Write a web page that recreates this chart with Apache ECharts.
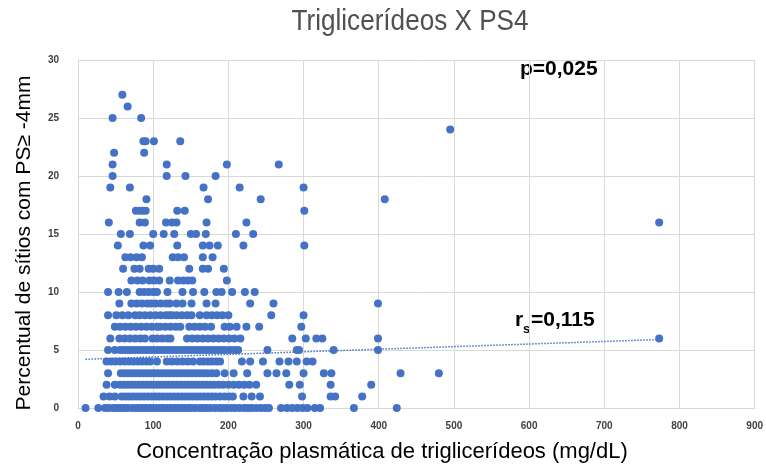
<!DOCTYPE html>
<html>
<head>
<meta charset="utf-8">
<script src="https://cdn.jsdelivr.net/npm/echarts@6/dist/echarts.min.js"></script>
<style>html,body{margin:0;padding:0;background:#fff}#c{width:766px;height:465px}</style>
</head>
<body>
<div id="c"></div>
<script>
// Triglycerides (mg/dL) at each PS4 percentage level
const ps0 = [10, 27, 36, 41, 47, 52, 56, 61, 66, 72, 77, 81, 86, 90, 95, 99, 104, 109, 113, 118, 123, 128, 132, 137, 142, 147, 151, 156, 162, 167, 171, 176, 182, 188, 193, 198, 204, 209, 215, 221, 226, 231, 237, 243, 249, 254, 270, 278, 285, 292, 299, 305, 315, 322, 367, 424];
const ps1 = [34, 42, 49, 58, 63, 68, 73, 78, 83, 88, 93, 98, 103, 108, 113, 118, 123, 128, 133, 138, 143, 148, 153, 158, 163, 168, 173, 178, 183, 189, 195, 201, 206, 220, 231, 242, 298, 336, 342, 378];
const ps2 = [38, 49, 56, 61, 66, 71, 76, 81, 86, 91, 96, 101, 106, 111, 116, 121, 126, 131, 136, 141, 146, 151, 156, 161, 166, 171, 176, 181, 187, 193, 200, 207, 214, 221, 228, 237, 281, 295, 336, 390];
const ps3 = [40, 57, 62, 67, 72, 77, 82, 87, 92, 97, 102, 107, 112, 117, 122, 127, 132, 137, 142, 147, 152, 157, 162, 167, 172, 178, 184, 195, 207, 225, 252, 264, 277, 300, 327, 337, 429, 480];
const ps4 = [38, 44, 50, 56, 62, 68, 74, 80, 85, 91, 96, 105, 118, 125, 132, 139, 146, 153, 162, 167, 173, 178, 184, 189, 218, 229, 246, 268, 280, 291, 304, 312];
const ps5 = [40, 49, 56, 61, 66, 71, 76, 81, 86, 91, 96, 101, 106, 111, 116, 121, 126, 131, 136, 141, 146, 151, 156, 161, 166, 171, 176, 181, 186, 191, 196, 202, 208, 213, 252, 291, 294, 340, 399];
const ps6 = [43, 55, 62, 69, 76, 83, 89, 99, 105, 112, 119, 123, 145, 152, 159, 166, 173, 180, 187, 194, 201, 208, 216, 285, 303, 317, 325, 399, 773];
const ps7 = [49, 56, 63, 70, 77, 84, 91, 98, 105, 109, 116, 123, 130, 136, 148, 155, 162, 169, 177, 195, 202, 211, 224, 241, 297];
const ps8 = [40, 51, 59, 67, 76, 82, 89, 96, 103, 110, 117, 121, 125, 131, 138, 145, 151, 162, 171, 178, 185, 192, 200, 257, 300];
const ps9 = [55, 71, 78, 85, 92, 97, 103, 110, 117, 122, 131, 139, 151, 171, 183, 229, 260, 399];
const ps10 = [40, 54, 65, 82, 88, 94, 100, 105, 119, 139, 153, 168, 184, 191, 205, 222, 235];
const ps11 = [71, 79, 86, 95, 101, 108, 122, 133, 140, 146, 152, 198];
const ps12 = [60, 75, 82, 94, 100, 108, 148, 166, 173, 194];
const ps13 = [63, 70, 78, 85, 126, 133, 141, 166, 179];
const ps14 = [53, 87, 96, 132, 166, 175, 186, 220, 301];
const ps15 = [57, 69, 100, 114, 128, 150, 157, 170, 210, 233];
const ps16 = [41, 82, 89, 117, 125, 131, 171, 224, 773];
const ps17 = [77, 82, 86, 90, 132, 142, 301];
const ps18 = [91, 173, 243, 408];
const ps19 = [43, 69, 167, 215, 300];
const ps20 = [46, 118, 143, 183];
const ps21 = [46, 118, 198, 267];
const ps22 = [48, 88];
const ps23 = [87, 90, 101, 136];
const ps24 = [495];
const ps25 = [46, 84];
const ps26 = [66];
const ps27 = [59];
const psRows = [ps0, ps1, ps2, ps3, ps4, ps5, ps6, ps7, ps8, ps9, ps10, ps11, ps12, ps13, ps14, ps15, ps16, ps17, ps18, ps19, ps20, ps21, ps22, ps23, ps24, ps25, ps26, ps27];

// Linear trend line end points
const trendX = [10, 773];
const trendY = [4.2, 5.9];

const xTicks = [0, 900, 100];
const yTicks = [0, 30, 5];

const titleText = 'Triglicerídeos X PS4';
const xName = 'Concentração plasmática de triglicerídeos (mg/dL)';
const yName = 'Percentual de sítios com PS≥ -4mm';
const pText = 'p=0,025';
const rText = '=0,115';

const scatterData = [];
psRows.forEach((row, level) => row.forEach(tg => scatterData.push([tg, level])));
const trendData = trendX.map((x, i) => [x, trendY[i]]);

const chart = echarts.init(document.getElementById('c'));
const sans = '"Liberation Sans", Arial, sans-serif';
chart.setOption({
  animation: false,
  grid: { left: 78, right: 11, top: 60, bottom: 57 },
  xAxis: {
    type: 'value', min: xTicks[0], max: xTicks[1], interval: xTicks[2],
    axisLine: { lineStyle: { color: '#d9d9d9' } },
    axisTick: { show: false },
    axisLabel: { fontFamily: sans, fontSize: 10, fontWeight: 'bold', color: '#404040', margin: 13 },
    splitLine: { lineStyle: { color: '#d9d9d9' } }
  },
  yAxis: {
    type: 'value', min: yTicks[0], max: yTicks[1], interval: yTicks[2],
    axisLine: { show: true, lineStyle: { color: '#d9d9d9' } },
    axisTick: { show: false },
    axisLabel: { fontFamily: sans, fontSize: 10, fontWeight: 'bold', color: '#404040', margin: 19 },
    splitLine: { lineStyle: { color: '#d9d9d9' } }
  },
  series: [
    {
      type: 'scatter', data: scatterData, symbolSize: 8,
      itemStyle: { color: '#4472C4', opacity: 1 }
    },
    {
      type: 'line', data: trendData, symbol: 'none', z: 3,
      lineStyle: { color: '#4472C4', width: 1.5, type: 'dotted' }
    }
  ],
  graphic: [
    {
      type: 'text', x: 410, y: 22, scaleX: 0.9,
      style: { text: titleText, font: '29px ' + sans, fill: '#505050', align: 'center', verticalAlign: 'middle' }
    },
    {
      type: 'text', x: 382, y: 452,
      style: { text: xName, font: '22px ' + sans, fill: '#000', align: 'center', verticalAlign: 'middle' }
    },
    {
      type: 'text', x: 24, y: 243, rotation: Math.PI / 2,
      style: { text: yName, font: '21px ' + sans, fill: '#000', align: 'center', verticalAlign: 'middle' }
    },
    {
      type: 'text', x: 520, y: 69,
      style: { text: pText, font: 'bold 21px ' + sans, fill: '#000', align: 'left', verticalAlign: 'middle' }
    },
    {
      type: 'text', x: 515, y: 320,
      style: { text: 'r', font: 'bold 21px ' + sans, fill: '#000', align: 'left', verticalAlign: 'middle' }
    },
    {
      type: 'text', x: 523, y: 329,
      style: { text: 's', font: 'bold 13px ' + sans, fill: '#000', align: 'left', verticalAlign: 'middle' }
    },
    {
      type: 'text', x: 531, y: 320,
      style: { text: rText, font: 'bold 21px ' + sans, fill: '#000', align: 'left', verticalAlign: 'middle' }
    }
  ]
});
</script>
</body>
</html>
